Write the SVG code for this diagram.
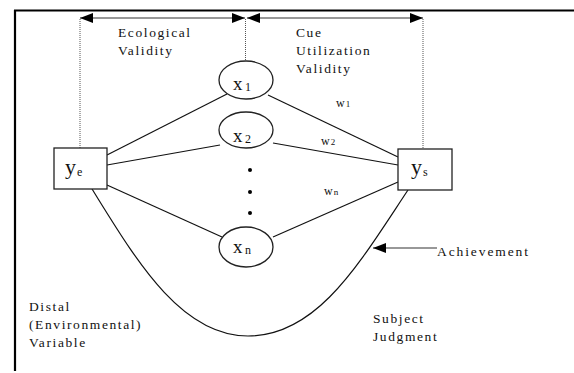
<svg xmlns="http://www.w3.org/2000/svg" width="574" height="373" viewBox="0 0 574 373">
<style>
.t{font-family:"Liberation Serif","Times New Roman",serif;font-size:13.5px;letter-spacing:1.6px;fill:#111}
.v{font-family:"Liberation Serif","Times New Roman",serif;fill:#111}
.ln{stroke:#111;stroke-width:1.2;fill:none}
.dot{stroke:#555;stroke-width:1;stroke-dasharray:1 1;fill:none}
.nd{fill:#fff;stroke:#222;stroke-width:1.3}
</style>
<defs>
<marker id="ah" markerUnits="userSpaceOnUse" markerWidth="14" markerHeight="10" refX="13" refY="5" orient="auto-start-reverse">
<path d="M0,0 L13,5 L0,10 Z" fill="#000"/>
</marker>
</defs>
<g id="frame">
<line x1="14" y1="10.5" x2="574" y2="10.5" stroke="#000" stroke-width="2.2"/>
<line x1="15" y1="10" x2="15" y2="371" stroke="#000" stroke-width="2.2"/>
</g>
<g id="connectors">
<line class="dot" x1="80" y1="19" x2="80" y2="148"/>
<line class="dot" x1="245.5" y1="19" x2="245.5" y2="61"/>
<line class="dot" x1="423" y1="19" x2="423" y2="160"/>
<line x1="80" y1="18" x2="245" y2="18" stroke="#333" stroke-width="1.2" marker-start="url(#ah)" marker-end="url(#ah)"/>
<line x1="247" y1="18" x2="423" y2="18" stroke="#333" stroke-width="1.2" marker-start="url(#ah)" marker-end="url(#ah)"/>
<line class="ln" x1="107" y1="155" x2="227" y2="94"/>
<line class="ln" x1="107" y1="165" x2="220" y2="145"/>
<line class="ln" x1="107" y1="185" x2="222" y2="237"/>
<line class="ln" x1="268" y1="95" x2="398" y2="157"/>
<line class="ln" x1="273" y1="143" x2="398" y2="165"/>
<line class="ln" x1="273" y1="237" x2="398" y2="182"/>
<path class="ln" d="M92,189 C135,258 180,336 248,336 C318,336 360,262 408,190"/>
<line x1="373" y1="248" x2="437" y2="248" stroke="#333" stroke-width="1.2" marker-start="url(#ah)"/>
</g>
<g id="ye">
<rect class="nd" x="54" y="148" width="53" height="41"/>
<text class="v" x="65" y="174" font-size="22">y</text>
<text class="v" x="77" y="176" font-size="12">e</text>
</g>
<g id="ys">
<rect class="nd" x="398" y="149" width="54" height="41"/>
<text class="v" x="411" y="174" font-size="22">y</text>
<text class="v" x="423" y="176" font-size="12">s</text>
</g>
<g id="x1">
<ellipse class="nd" cx="246" cy="80" rx="27" ry="19"/>
<text class="v" x="233" y="90" font-size="19">x</text>
<text class="v" x="245" y="91" font-size="12">1</text>
</g>
<g id="x2">
<ellipse class="nd" cx="246" cy="130" rx="27" ry="18"/>
<text class="v" x="233" y="142" font-size="19">x</text>
<text class="v" x="245" y="143" font-size="12">2</text>
</g>
<g id="dots">
<circle cx="250" cy="170" r="2" fill="#000"/>
<circle cx="250" cy="192" r="2" fill="#000"/>
<circle cx="250" cy="213" r="2" fill="#000"/>
</g>
<g id="xn">
<ellipse class="nd" cx="246" cy="247" rx="27" ry="20"/>
<text class="v" x="233" y="253" font-size="19">x</text>
<text class="v" x="245" y="254" font-size="12">n</text>
</g>
<g id="labels">
<text class="t" x="118" y="37">Ecological</text>
<text class="t" x="118" y="55">Validity</text>
<text class="t" x="296" y="37">Cue</text>
<text class="t" x="296" y="55">Utilization</text>
<text class="t" x="296" y="73">Validity</text>
<text class="v" x="336" y="107" font-size="12">w<tspan font-size="9" dx="1">1</tspan></text>
<text class="v" x="321" y="145" font-size="12">w<tspan font-size="9" dx="1">2</tspan></text>
<text class="v" x="324" y="195" font-size="12">w<tspan font-size="9" dx="1">n</tspan></text>
<text class="t" x="437" y="256" style="letter-spacing:1.9px">Achievement</text>
<text class="t" x="29" y="311">Distal</text>
<text class="t" x="29" y="329">(Environmental)</text>
<text class="t" x="29" y="347">Variable</text>
<text class="t" x="373" y="323">Subject</text>
<text class="t" x="373" y="341">Judgment</text>
</g>
</svg>
